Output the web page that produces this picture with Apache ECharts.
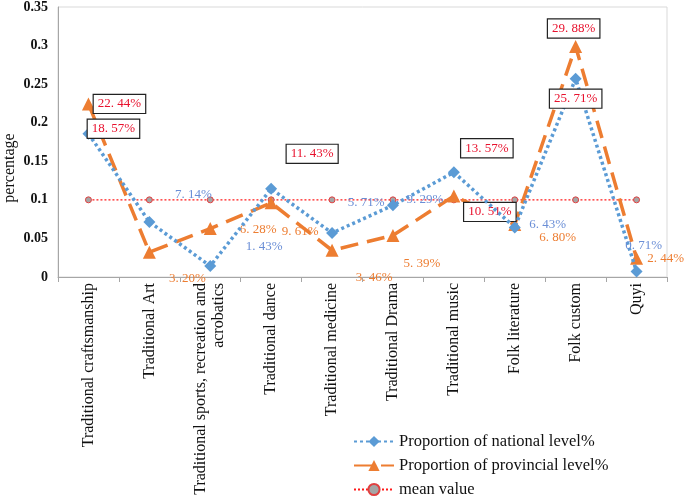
<!DOCTYPE html>
<html>
<head>
<meta charset="utf-8">
<script src="https://cdn.jsdelivr.net/npm/echarts@6/dist/echarts.min.js"></script>
<style>
  html, body { margin: 0; padding: 0; background: #fff; }
  #chart { width: 685px; height: 503px; }
</style>
</head>
<body>
<div id="chart"></div>
<script>
var categories = ['Traditional craftsmanship', 'Traditional Art', 'Traditional sports, recreation and\nacrobatics',
  'Traditional dance', 'Traditional medicine', 'Traditional Drama', 'Traditional music',
  'Folk literature', 'Folk custom', 'Quyi'];
var national = [0.1857, 0.0714, 0.0143, 0.1143, 0.0571, 0.0929, 0.1357, 0.0643, 0.2571, 0.0071];
var provincial = [0.2244, 0.0320, 0.0628, 0.0961, 0.0346, 0.0539, 0.1051, 0.0680, 0.2988, 0.0244];
var meanValue = [0.1, 0.1, 0.1, 0.1, 0.1, 0.1, 0.1, 0.1, 0.1, 0.1];
var yTicks = [0, 0.05, 0.1, 0.15, 0.2, 0.25, 0.3, 0.35];

// label placement (moved by hand in the original)
var natOffsets = [[25, -5], [44, -27], [54, -19], [41, -35], [34, -30], [32, -6], [33, -24], [33, -3], [0, 20], [7, -26]];
var natBoxed = [true, false, false, true, false, false, true, false, true, false];
var provOffsets = [[31, 0], [38, 26], [48, 1], [29, 29], [42, 27], [29, 28], [36, 16], [43, 13], [-2, -18], [29, 0]];
var provBoxed = [true, false, false, false, false, false, true, false, true, false];

function pct(v) {
  var s = (v * 100).toFixed(2).split('.');
  return s[0] + '. ' + s[1] + '%';
}

function buildData(values, offsets, boxed, color) {
  return values.map(function (v, i) {
    var lab = { offset: offsets[i], color: color };
    if (boxed[i]) {
      lab = {
        offset: offsets[i], color: '#e8112d', backgroundColor: '#fff',
        borderColor: '#222', borderWidth: 1.2, padding: [3, 4, 2, 4]
      };
    }
    return { value: v, label: lab };
  });
}

var labelBase = {
  show: true, position: 'inside', align: 'center', verticalAlign: 'middle',
  fontFamily: 'Liberation Serif', fontSize: 13,
  formatter: function (p) { return pct(p.value); }
};

var myChart = echarts.init(document.getElementById('chart'));

var option = {
  animation: false,
  grid: { left: 58, right: 18, top: 5, bottom: 226, show: true, borderColor: '#d9d9d9', borderWidth: 1 },
  legend: {
    orient: 'vertical', left: 353, top: 433, height: 70, padding: 0,
    itemWidth: 40, itemHeight: 14, itemGap: 7,
    textStyle: { fontFamily: 'Liberation Serif', fontSize: 16.5, color: '#111' },
    data: ['Proportion of national level%', 'Proportion of provincial level%', 'mean value']
  },
  graphic: [{
    type: 'text', x: 10, y: 168, rotation: Math.PI / 2,
    style: { text: 'percentage', fontFamily: 'Liberation Serif', fontSize: 16, fill: '#111', align: 'center', verticalAlign: 'middle' }
  }],
  xAxis: {
    type: 'category', data: categories, boundaryGap: true,
    axisLine: { lineStyle: { color: '#a6a6a6' } },
    axisTick: { show: true, alignWithLabel: false, length: 5, lineStyle: { color: '#a6a6a6' } },
    axisLabel: { rotate: 90, interval: 0, margin: 6, fontFamily: 'Liberation Serif', fontSize: 16, color: '#111', lineHeight: 18 }
  },
  yAxis: {
    type: 'value', min: 0, max: 0.35, interval: 0.05,
    splitLine: { show: false },
    axisLine: { show: true, lineStyle: { color: '#a6a6a6' } },
    axisTick: { show: false },
    axisLabel: {
      fontFamily: 'Liberation Serif', fontSize: 14, fontWeight: 'bold', color: '#111', margin: 10,
      formatter: function (v) {
        for (var i = 0; i < yTicks.length; i++) {
          if (Math.abs(yTicks[i] - v) < 1e-9) return String(yTicks[i]);
        }
        return '';
      }
    }
  },
  series: [
    {
      name: 'mean value', type: 'line', data: meanValue, z: 1,
      symbol: 'circle', symbolSize: 6,
      lineStyle: { color: '#ff1a1a', width: 1.2, type: [2, 2] },
      itemStyle: { color: '#a5a5a5', borderColor: '#e04040', borderWidth: 1 }
    },
    {
      name: 'Proportion of national level%', type: 'line', z: 3,
      data: buildData(national, natOffsets, natBoxed, '#6a8ed6'),
      symbol: 'diamond', symbolSize: 12,
      lineStyle: { color: '#5b9bd5', width: 3.5, type: [3, 3] },
      itemStyle: { color: '#5b9bd5' },
      label: labelBase
    },
    {
      name: 'Proportion of provincial level%', type: 'line', z: 2,
      data: buildData(provincial, provOffsets, provBoxed, '#ed7d31'),
      symbol: 'triangle', symbolSize: 13,
      lineStyle: { color: '#ed7d31', width: 3.5, type: [18, 9] },
      itemStyle: { color: '#ed7d31' },
      label: labelBase
    }
  ]
};

myChart.setOption(option);
</script>
</body>
</html>
